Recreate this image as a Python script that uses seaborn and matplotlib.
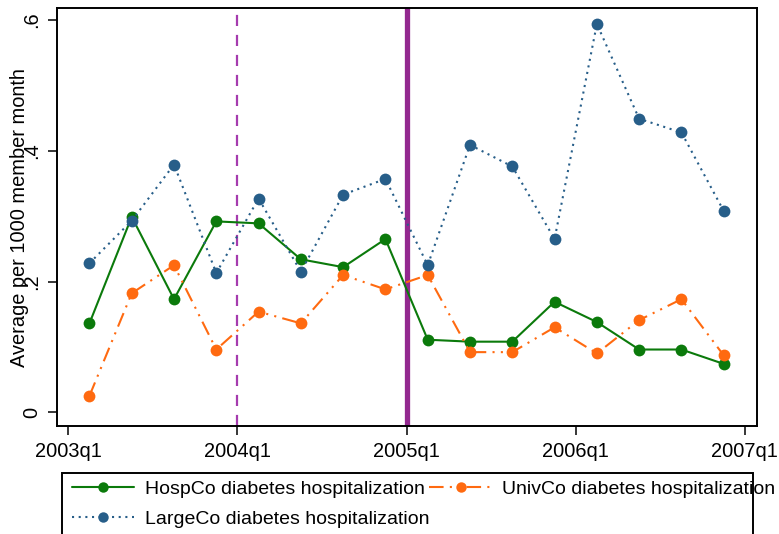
import matplotlib
matplotlib.use("Agg")
import matplotlib.pyplot as plt
import seaborn as sns
import pandas as pd
from matplotlib.patches import Rectangle
from matplotlib.lines import Line2D

# ---- data ----
quarter_pos = [0.5, 1.5, 2.5, 3.5, 4.5, 5.5, 6.5, 7.5,
               8.5, 9.5, 10.5, 11.5, 12.5, 13.5, 14.5, 15.5]
hospco = [0.136, 0.299, 0.173, 0.292, 0.289, 0.234, 0.222, 0.265,
          0.111, 0.108, 0.108, 0.169, 0.138, 0.096, 0.096, 0.074]
univco = [0.025, 0.182, 0.225, 0.096, 0.154, 0.136, 0.210, 0.188,
          0.210, 0.092, 0.092, 0.130, 0.090, 0.141, 0.173, 0.087]
largeco = [0.228, 0.293, 0.379, 0.213, 0.327, 0.215, 0.333, 0.357,
           0.225, 0.409, 0.376, 0.265, 0.594, 0.449, 0.428, 0.308]
xtick_pos = [0, 4, 8, 12, 16]
xtick_labels = ["2003q1", "2004q1", "2005q1", "2006q1", "2007q1"]
ytick_pos = [0, 0.2, 0.4, 0.6]
ytick_labels = ["0", ".2", ".4", ".6"]
series_names = ["HospCo diabetes hospitalization",
                "UnivCo diabetes hospitalization",
                "LargeCo diabetes hospitalization"]
dashed_line_q = 4
solid_line_q = 8

sns.set_theme(style="white")
plt.rcParams["font.family"] = ["Liberation Sans", "DejaVu Sans"]
plt.rcParams["text.color"] = "black"
plt.rcParams["axes.labelcolor"] = "black"

W, H = 779, 534
fig = plt.figure(figsize=(W / 100, H / 100), dpi=100)
ax = fig.add_axes([57.3 / W, 1 - 426 / H, (756.7 - 57.3) / W, (426 - 8.3) / H])

green = "#0B7A0B"
orange = "#FF6A10"
blue = "#275E89"
purple_solid = "#93288F"
purple_dash = "#A53BAE"

ax.axvline(dashed_line_q, color=purple_dash, lw=1.6, ls=(0, (5, 4)), zorder=1)
ax.axvline(solid_line_q, color=purple_solid, lw=3.8, zorder=1)

df = pd.DataFrame({"q": quarter_pos, "h": hospco, "u": univco, "l": largeco})
styles = [
    ("h", green, "-"),
    ("u", orange, (0, (7, 3, 1, 3, 1, 3))),
    ("l", blue, (0, (1, 2.2))),
]
for col, c, ls in styles:
    sns.lineplot(data=df, x="q", y=col, ax=ax, color=c, marker="o",
                 markersize=8.5, markeredgewidth=0, linestyle=ls, lw=1.5,
                 zorder=3)

ax.set_xlim(-0.26, 16.28)
ax.set_ylim(-0.021, 0.618)
ax.set_xticks(xtick_pos)
ax.set_xticklabels(xtick_labels)
ax.set_yticks(ytick_pos)
ax.set_yticklabels(ytick_labels)
ax.set_xlabel("")
ax.set_ylabel("Average per 1000 member month", fontsize=14.4, color="black")
ax.yaxis.set_label_coords((29 - 57.3) / 699.4, 0.5)
ax.tick_params(axis="both", which="both", direction="out", length=6.5,
               width=1.1, color="black", labelsize=14.4, pad=5,
               bottom=True, left=True, labelcolor="black")
for lab in ax.get_yticklabels():
    lab.set_rotation(90)
    lab.set_va("center")
for s in ax.spines.values():
    s.set_color("black")
    s.set_linewidth(1.4)

# legend
handles = [
    Line2D([], [], color=green, lw=1.5, ls="-", marker="o", markersize=7.5, markeredgewidth=0),
    Line2D([], [], color=blue, lw=1.5, ls=(0, (1, 2.2)), marker="o", markersize=7.5, markeredgewidth=0),
    Line2D([], [], color=orange, lw=1.5, ls=(0, (7, 3, 1, 3, 1, 3)), marker="o", markersize=7.5, markeredgewidth=0),
]
labels = [series_names[0], series_names[2], series_names[1]]
leg = fig.legend(handles, labels, ncol=2, loc="upper left",
                 bbox_to_anchor=(72 / W, 1 - 480 / H), frameon=False,
                 fontsize=14, handlelength=3.2, handletextpad=0.55,
                 columnspacing=0.0, labelspacing=0.65, borderpad=0,
                 borderaxespad=0, labelcolor="black")
rect = Rectangle((62 / W, -0.05), (753 - 62) / W, (1 - 472.7 / H) + 0.05,
                 transform=fig.transFigure, fill=False, edgecolor="black",
                 lw=1.4, clip_on=False)
fig.patches.append(rect)

fig.savefig("out.png", dpi=100, facecolor="white")
